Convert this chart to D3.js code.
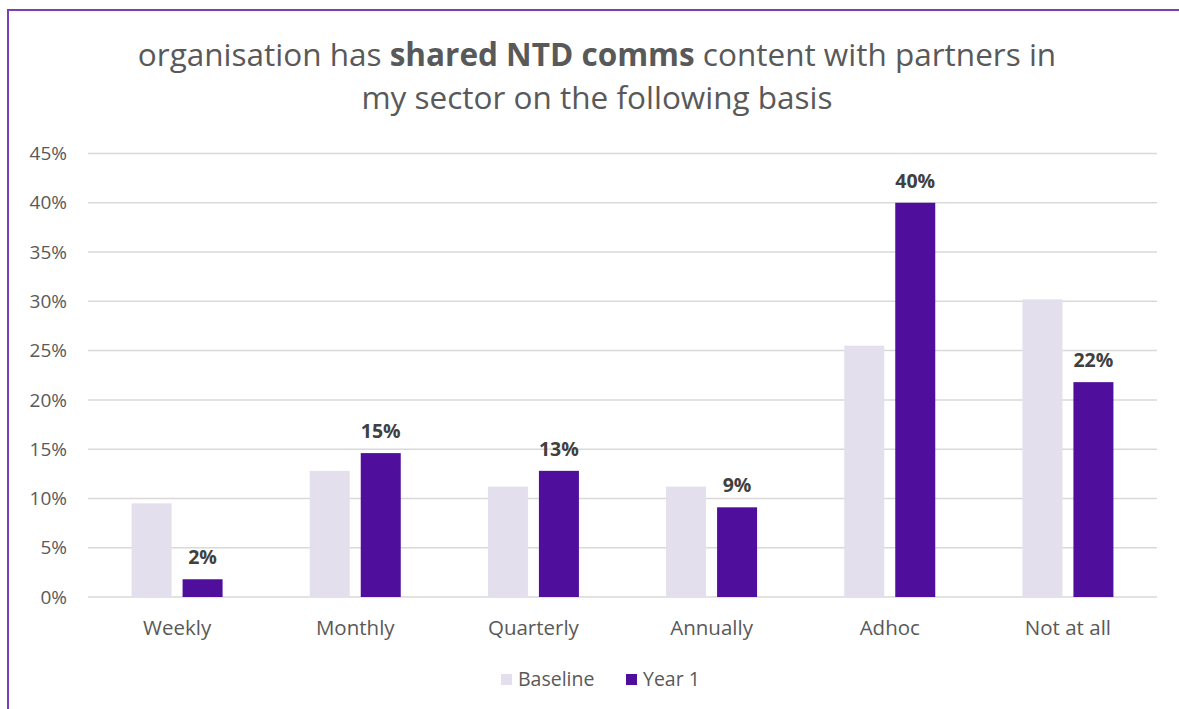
<!DOCTYPE html>
<html>
<head>
<meta charset="utf-8">
<script src="https://cdn.jsdelivr.net/npm/d3@7"></script>
<style>
  body { margin: 0; background: #fff; }
  svg { display: block; font-family: "Open Sans", "Noto Sans", sans-serif; }
</style>
</head>
<body>
<svg id="chart" width="1179" height="709"></svg>
<script>
// chart data
var categories = ['Weekly', 'Monthly', 'Quarterly', 'Annually', 'Adhoc', 'Not at all'];
var seriesNames = ['Baseline', 'Year 1'];
var baseline = [9.5, 12.8, 11.2, 11.2, 25.5, 30.2];
var year1 = [1.8, 14.6, 12.8, 9.1, 40.0, 21.8];
var year1Labels = ['2%', '15%', '13%', '9%', '40%', '22%'];
var yTicks = [0, 5, 10, 15, 20, 25, 30, 35, 40, 45];

var colors = ['#E3DFEC', '#4F0F9C'];

var width = 1179,
    height = 709,
    margin = { top: 153.5, right: 22, bottom: 112, left: 88 };

var svg = d3.select('#chart');

// outer purple frame (only top + left visible in the crop)
svg.append('rect')
    .attr('x', 8)
    .attr('y', 10)
    .attr('width', 1200)
    .attr('height', 800)
    .attr('fill', 'none')
    .attr('stroke', '#7B3FB5')
    .attr('stroke-width', 2);

// title
var title = svg.append('text')
    .attr('text-anchor', 'middle')
    .attr('fill', '#595959')
    .style('font-size', '31.5px');

var line1 = title.append('tspan').attr('x', 597).attr('y', 66);
line1.append('tspan').text('organisation has ');
line1.append('tspan').style('font-weight', 'bold').text('shared NTD comms');
line1.append('tspan').text(' content with partners in');
title.append('tspan').attr('x', 597).attr('y', 109).text('my sector on the following basis');

var x0 = d3.scaleBand()
    .domain(categories)
    .range([margin.left, width - margin.right]);

var y = d3.scaleLinear()
    .domain([0, 45])
    .range([height - margin.bottom, margin.top]);

// gridlines
svg.append('g')
    .selectAll('line')
    .data(yTicks)
    .enter().append('line')
    .attr('x1', margin.left)
    .attr('x2', width - margin.right)
    .attr('y1', function(d) { return y(d); })
    .attr('y2', function(d) { return y(d); })
    .attr('stroke', '#D9D9D9')
    .attr('stroke-width', 1.5);

// y axis labels
svg.append('g')
    .selectAll('text')
    .data(yTicks)
    .enter().append('text')
    .attr('x', 67)
    .attr('y', function(d) { return y(d); })
    .attr('dy', '0.35em')
    .attr('text-anchor', 'end')
    .attr('fill', '#595959')
    .style('font-size', '19px')
    .text(function(d) { return d + '%'; });

// x category labels
svg.append('g')
    .selectAll('text')
    .data(categories)
    .enter().append('text')
    .attr('x', function(d) { return x0(d) + x0.bandwidth() / 2; })
    .attr('y', 635)
    .attr('text-anchor', 'middle')
    .attr('fill', '#595959')
    .style('font-size', '20.5px')
    .text(function(d) { return d; });

// bars
var barW = 40, gap = 11;
var x1 = d3.scaleOrdinal()
    .domain(seriesNames)
    .range([-(gap / 2) - barW, gap / 2]);

var rows = categories.map(function(c, i) {
    return { cat: c, values: [baseline[i], year1[i]] };
});

var groups = svg.append('g')
    .selectAll('g')
    .data(rows)
    .enter().append('g')
    .attr('transform', function(d) {
        return 'translate(' + (x0(d.cat) + x0.bandwidth() / 2) + ',0)';
    });

groups.selectAll('rect')
    .data(function(d) {
        return d.values.map(function(v, j) { return { s: seriesNames[j], v: v, j: j }; });
    })
    .enter().append('rect')
    .attr('x', function(d) { return x1(d.s); })
    .attr('y', function(d) { return y(d.v); })
    .attr('width', barW)
    .attr('height', function(d) { return y(0) - y(d.v); })
    .attr('fill', function(d) { return colors[d.j]; });

// data labels on Year 1
svg.append('g')
    .selectAll('text')
    .data(rows)
    .enter().append('text')
    .attr('x', function(d) { return x0(d.cat) + x0.bandwidth() / 2 + x1('Year 1') + barW / 2; })
    .attr('y', function(d) { return y(d.values[1]) - 15; })
    .attr('text-anchor', 'middle')
    .attr('fill', '#404040')
    .style('font-size', '19.5px')
    .style('font-weight', 'bold')
    .text(function(d, i) { return year1Labels[i]; });

// legend
var legendPos = [501, 626];
var legend = svg.append('g')
    .selectAll('g')
    .data(seriesNames)
    .enter().append('g')
    .attr('transform', function(d, i) { return 'translate(' + legendPos[i] + ',674)'; });

legend.append('rect')
    .attr('width', 11)
    .attr('height', 11)
    .attr('fill', function(d, i) { return colors[i]; });

legend.append('text')
    .attr('x', 17)
    .attr('y', 5.5)
    .attr('dy', '0.35em')
    .attr('fill', '#595959')
    .style('font-size', '19.5px')
    .text(function(d) { return d; });
</script>
</body>
</html>
